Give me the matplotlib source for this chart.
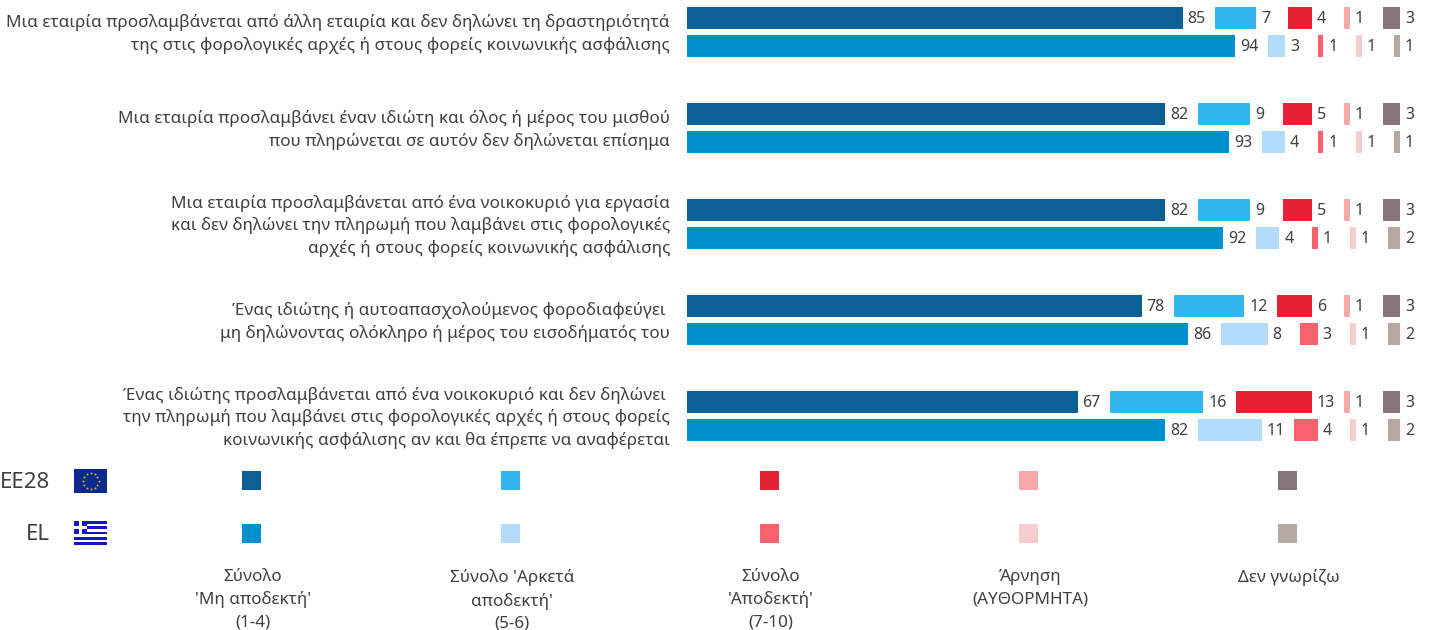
import matplotlib
matplotlib.use('Agg')
import matplotlib.pyplot as plt
from matplotlib.patches import Rectangle
import numpy as np

plt.rcParams['font.family'] = ['Noto Sans', 'DejaVu Sans']

questions = [
    'Μια εταιρία προσλαμβάνεται από άλλη εταιρία και δεν δηλώνει τη δραστηριότητά\nτης στις φορολογικές αρχές ή στους φορείς κοινωνικής ασφάλισης',
    'Μια εταιρία προσλαμβάνει έναν ιδιώτη και όλος ή μέρος του μισθού\nπου πληρώνεται σε αυτόν δεν δηλώνεται επίσημα',
    'Μια εταιρία προσλαμβάνεται από ένα νοικοκυριό για εργασία\nκαι δεν δηλώνει την πληρωμή που λαμβάνει στις φορολογικές\nαρχές ή στους φορείς κοινωνικής ασφάλισης',
    'Ένας ιδιώτης ή αυτοαπασχολούμενος φοροδιαφεύγει \nμη δηλώνοντας ολόκληρο ή μέρος του εισοδήματός του',
    'Ένας ιδιώτης προσλαμβάνεται από ένα νοικοκυριό και δεν δηλώνει \nτην πληρωμή που λαμβάνει στις φορολογικές αρχές ή στους φορείς\nκοινωνικής ασφάλισης αν και θα έπρεπε να αναφέρεται',
]

# one row per question, one column per answer
eu28 = [[85, 7, 4, 1, 3],
        [82, 9, 5, 1, 3],
        [82, 9, 5, 1, 3],
        [78, 12, 6, 1, 3],
        [67, 16, 13, 1, 3]]
el = [[94, 3, 1, 1, 1],
      [93, 4, 1, 1, 1],
      [92, 4, 1, 1, 2],
      [86, 8, 3, 1, 2],
      [82, 11, 4, 1, 2]]

answers = ['Σύνολο\n\'Μη αποδεκτή\'\n(1-4)',
           'Σύνολο \'Αρκετά\nαποδεκτή\'\n(5-6)',
           'Σύνολο\n\'Αποδεκτή\'\n(7-10)',
           'Άρνηση\n(ΑΥΘΟΡΜΗΤΑ)',
           'Δεν γνωρίζω']
eu_colors = ['#0d5f94', '#33b5ef', '#e52233', '#f7a8a8', '#85757b']
el_colors = ['#0090cf', '#b3dcfa', '#f9616c', '#f6cccc', '#b7a89f']

W, H = 1430, 630
TXT = '#404040'
FS = 12.3
UNIT = 5.83

fig = plt.figure(figsize=(W / 100, H / 100), dpi=100)

# bars, one group every 96 px
ax = fig.add_axes([687 / W, 1 - 480 / H, (W - 687) / W, 480 / H])
ax.set_xlim(0, (W - 687) / UNIT)
ax.set_ylim((480 - 32) / 96, -32 / 96)
ax.axis('off')

gap = 32.5 / UNIT
for series, colors, offset in [(eu28, eu_colors, -0.15), (el, el_colors, 0.15)]:
    for i, row in enumerate(series):
        left = 0
        for val, col in zip(row, colors):
            ax.barh(i + offset, val, left=left, height=0.23, color=col, linewidth=0)
            ax.annotate(str(val), xy=(left + val, i + offset), xytext=(5, -1),
                        textcoords='offset pixels', va='center', ha='left',
                        fontsize=11.5, color=TXT)
            left += val + gap

for i, q in enumerate(questions):
    ax.annotate(q, xy=(0, i), xytext=(-17, -2), textcoords='offset pixels',
                ha='right', va='center', multialignment='right',
                fontsize=FS, color=TXT, linespacing=1.45, annotation_clip=False)

# legend strip, pixel coordinates of the picture
lg = fig.add_axes([0, 0, 1, 1], zorder=-1)
lg.set_xlim(0, W)
lg.set_ylim(H, 0)
lg.axis('off')

centers = [252, 511, 770, 1029, 1288]
for cx, c1, c2, name in zip(centers, eu_colors, el_colors, answers):
    lg.add_patch(Rectangle((cx - 10, 471), 19, 19, color=c1, lw=0))
    lg.add_patch(Rectangle((cx - 10, 524), 19, 19, color=c2, lw=0))
    lg.text(cx + 1, 569, name, ha='center', va='top', fontsize=FS, color=TXT,
            linespacing=1.5)

lg.text(50, 482, 'EE28', ha='right', va='center', fontsize=16, color=TXT)
lg.text(50, 535, 'EL', ha='right', va='center', fontsize=16, color=TXT)

# EU flag
lg.add_patch(Rectangle((74, 469), 33, 24, color='#0a2a8c', lw=0))
ang = np.arange(12) * np.pi / 6
lg.scatter(90.5 + 8 * np.cos(ang), 481 + 8 * np.sin(ang), s=2, color='#c9b93a', lw=0)

# Greek flag
lg.add_patch(Rectangle((74, 521), 33, 24, color='white', lw=0))
for k in range(0, 9, 2):
    lg.add_patch(Rectangle((74, 521 + k * 24 / 9), 33, 24 / 9, color='#1414c8', lw=0))
lg.add_patch(Rectangle((74, 521), 13, 13.3, color='#1414c8', lw=0))
lg.add_patch(Rectangle((79, 521), 3, 13.3, color='white', lw=0))
lg.add_patch(Rectangle((74, 526.2), 13, 3, color='white', lw=0))

fig.savefig('out.png', dpi=100)
